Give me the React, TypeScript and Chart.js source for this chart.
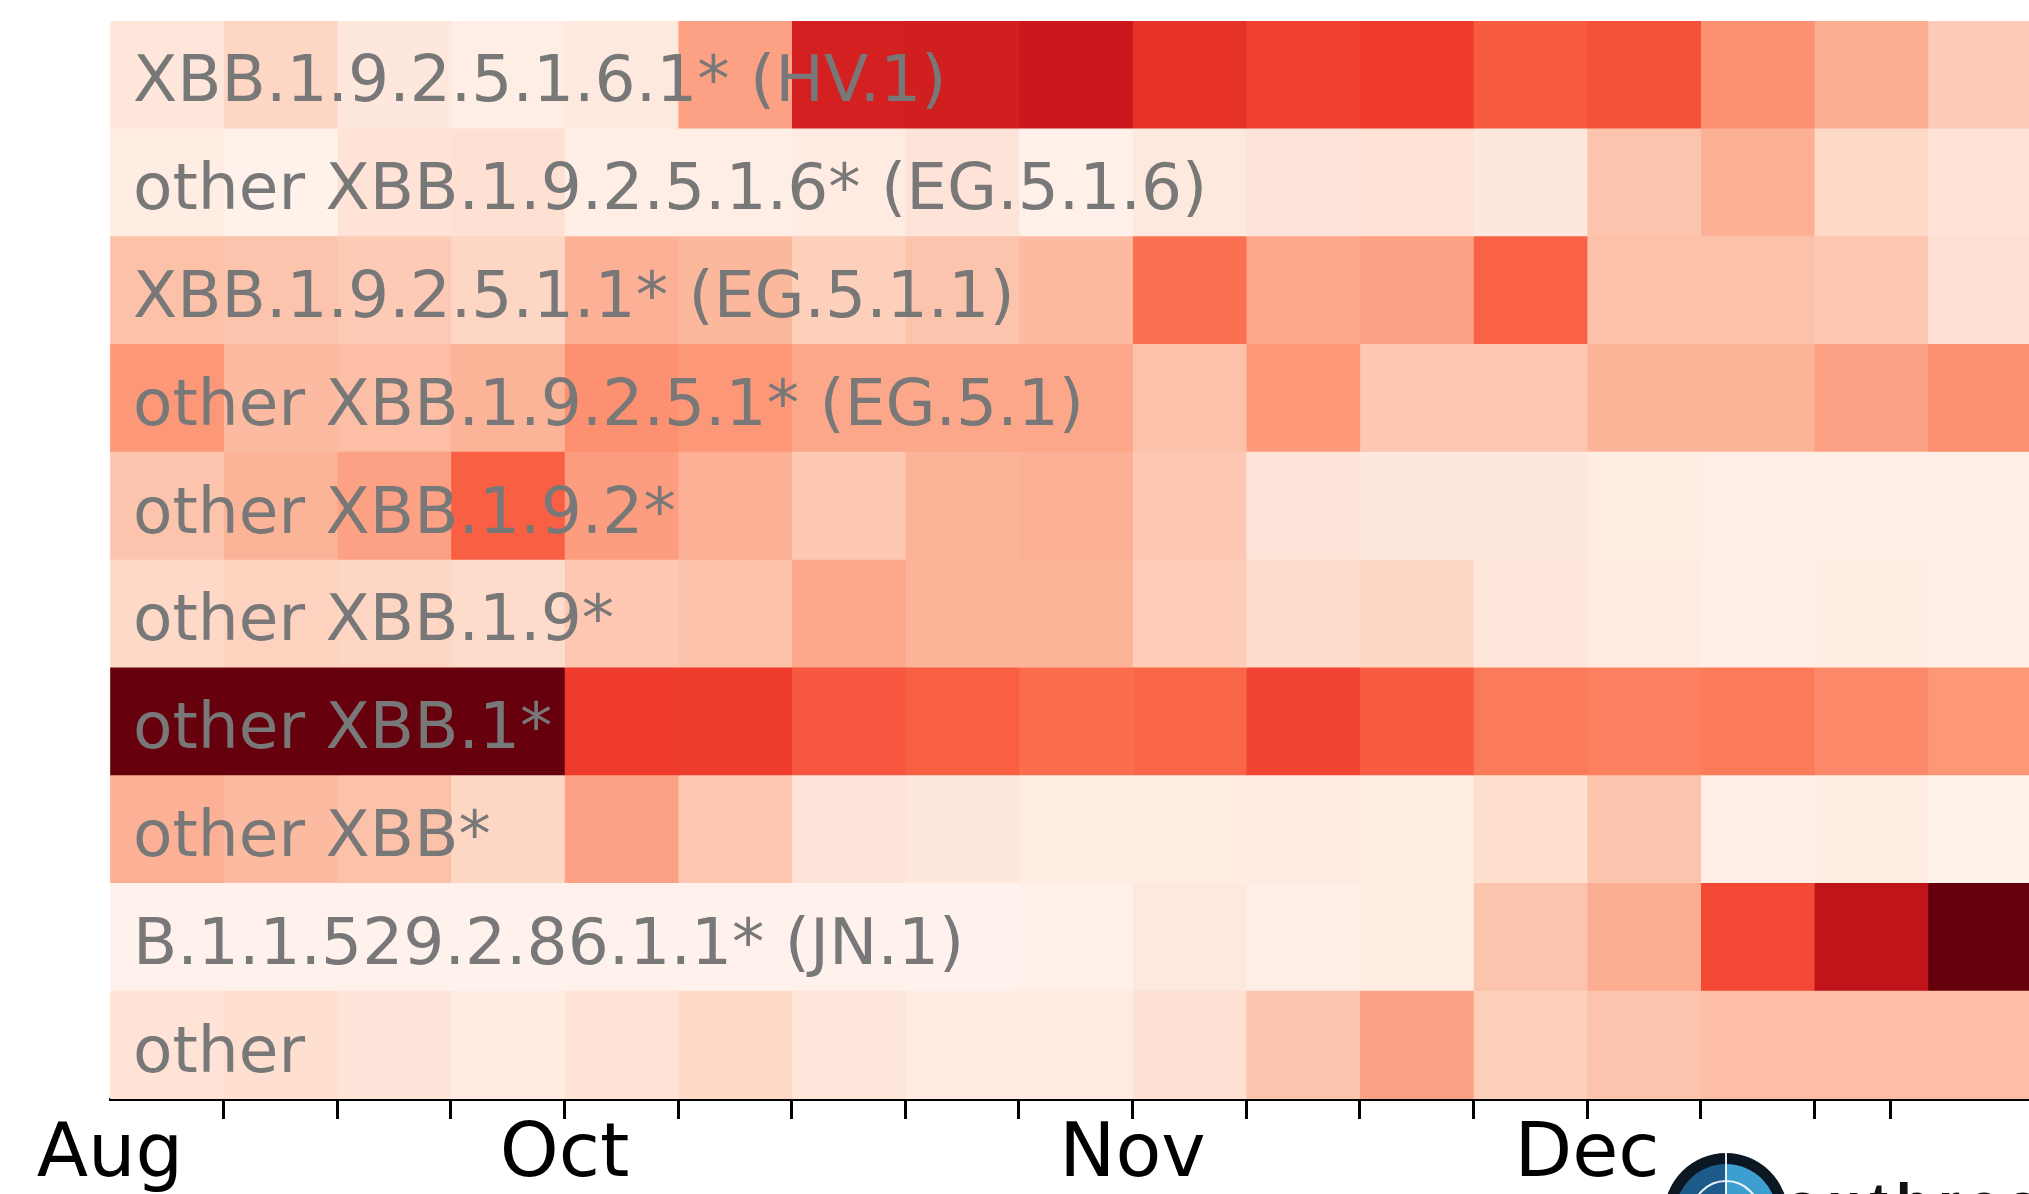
import { useEffect, useRef } from "react";
import { Chart, registerables } from "chart.js";

Chart.register(...registerables);

// Lineage groups, top to bottom
const lineages = [
  "XBB.1.9.2.5.1.6.1* (HV.1)",
  "other XBB.1.9.2.5.1.6* (EG.5.1.6)",
  "XBB.1.9.2.5.1.1* (EG.5.1.1)",
  "other XBB.1.9.2.5.1* (EG.5.1)",
  "other XBB.1.9.2*",
  "other XBB.1.9*",
  "other XBB.1*",
  "other XBB*",
  "B.1.1.529.2.86.1.1* (JN.1)",
  "other",
];

// Relative share per period (0..1, colour scale), one array per lineage group
const hv1 = [0.09, 0.16, 0.08, 0.04, 0.07, 0.33, 0.72, 0.73, 0.75, 0.66, 0.61, 0.625, 0.54, 0.565, 0.38, 0.29, 0.2];
const eg516 = [0.05, 0.02, 0.11, 0.12, 0.04, 0.04, 0.06, 0.1, 0.03, 0.07, 0.1, 0.11, 0.08, 0.22, 0.28, 0.15, 0.11];
const eg511 = [0.23, 0.22, 0.2, 0.16, 0.28, 0.26, 0.18, 0.22, 0.25, 0.48, 0.31, 0.33, 0.52, 0.23, 0.23, 0.21, 0.12];
const eg51 = [0.36, 0.25, 0.24, 0.27, 0.38, 0.36, 0.31, 0.31, 0.31, 0.23, 0.36, 0.21, 0.21, 0.27, 0.27, 0.33, 0.38];
const xbb192 = [0.22, 0.27, 0.33, 0.53, 0.34, 0.28, 0.21, 0.27, 0.28, 0.21, 0.1, 0.08, 0.08, 0.05, 0.04, 0.04, 0.04];
const xbb19 = [0.15, 0.17, 0.16, 0.14, 0.21, 0.23, 0.31, 0.27, 0.27, 0.19, 0.14, 0.16, 0.09, 0.06, 0.04, 0.05, 0.04];
const xbb1 = [1.0, 1.0, 1.0, 1.0, 0.625, 0.62, 0.55, 0.53, 0.49, 0.51, 0.6, 0.54, 0.45, 0.43, 0.45, 0.4, 0.36];
const xbb = [0.28, 0.25, 0.23, 0.16, 0.33, 0.21, 0.1, 0.08, 0.05, 0.05, 0.06, 0.05, 0.13, 0.22, 0.04, 0.05, 0.02];
const jn1 = [0.015, 0.015, 0.015, 0.015, 0.015, 0.015, 0.015, 0.015, 0.03, 0.07, 0.04, 0.05, 0.22, 0.29, 0.59, 0.79, 1.0];
const otherLineages = [0.11, 0.13, 0.1, 0.06, 0.11, 0.15, 0.09, 0.06, 0.06, 0.12, 0.22, 0.33, 0.18, 0.22, 0.24, 0.24, 0.24];

const shares = [hv1, eg516, eg511, eg51, xbb192, xbb19, xbb1, xbb, jn1, otherLineages];

// Period axis: tick marks, month labels and the visible span
const tickPositions = [0, 1, 2, 3, 4, 5, 6, 7, 8, 9, 10, 11, 12, 13, 14, 15, 15.67];
const monthTickAt = [0, 4, 9, 13];
const monthNames = ["Aug", "Oct", "Nov", "Dec"];
const visibleSpan = 16.89;

// matplotlib "Reds" colormap
const REDS = ["#fff5f0", "#fee0d2", "#fcbba1", "#fc9272", "#fb6a4a", "#ef3b2c", "#cb181d", "#a50f15", "#67000d"];

function hexToRgb(h: string) {
  return [parseInt(h.slice(1, 3), 16), parseInt(h.slice(3, 5), 16), parseInt(h.slice(5, 7), 16)];
}

function reds(t: number) {
  const v = Math.max(0, Math.min(1, t)) * (REDS.length - 1);
  const i = Math.min(REDS.length - 2, Math.floor(v));
  const f = v - i;
  const a = hexToRgb(REDS[i]);
  const b = hexToRgb(REDS[i + 1]);
  const c = a.map((x, k) => Math.round(x + (b[k] - x) * f));
  return `rgb(${c[0]}, ${c[1]}, ${c[2]})`;
}

const FONT = "'DejaVu Sans', Verdana, sans-serif";
const ROW_LABEL_SIZE = 64.6;
const ROW_LABEL_INSET = 23;

// Lineage names written over the left end of each row
const rowLabelPlugin = {
  id: "rowLabels",
  afterDatasetsDraw(chart: Chart) {
    const { ctx, chartArea } = chart;
    const yScale = chart.scales.y;
    ctx.save();
    ctx.fillStyle = "#787878";
    ctx.font = `${ROW_LABEL_SIZE}px ${FONT}`;
    ctx.textAlign = "left";
    ctx.textBaseline = "alphabetic";
    lineages.forEach((name, i) => {
      const y = yScale.getPixelForValue(i);
      ctx.fillText(name, chartArea.left + ROW_LABEL_INSET, y + ROW_LABEL_SIZE * 0.41);
    });
    ctx.restore();
  },
};

// outbreak.info mark in the lower right corner
const brandPlugin = {
  id: "brand",
  afterDraw(chart: Chart) {
    const { ctx } = chart;
    const cx = 1726;
    const cy = 1215;
    const r = 62;
    ctx.save();
    ctx.beginPath();
    ctx.arc(cx, cy, r, 0, Math.PI * 2);
    ctx.fillStyle = "#0b1722";
    ctx.fill();
    ctx.beginPath();
    ctx.arc(cx, cy, r - 11, Math.PI * 0.5, Math.PI * 1.5);
    ctx.fillStyle = "#1c5b8a";
    ctx.fill();
    ctx.beginPath();
    ctx.arc(cx, cy, r - 11, Math.PI * 1.5, Math.PI * 2.5);
    ctx.fillStyle = "#3c9fd0";
    ctx.fill();
    ctx.strokeStyle = "rgba(255,255,255,0.9)";
    ctx.lineWidth = 2;
    ctx.beginPath();
    ctx.moveTo(cx, cy - r);
    ctx.lineTo(cx, cy + r);
    ctx.stroke();
    ctx.beginPath();
    ctx.arc(cx, cy, r - 28, Math.PI, Math.PI * 2);
    ctx.stroke();
    ctx.fillStyle = "#111";
    ctx.font = "bold 56px 'Liberation Sans', Arial, sans-serif";
    (ctx as any).letterSpacing = "8px";
    ctx.textBaseline = "alphabetic";
    ctx.textAlign = "left";
    ctx.fillText("outbreak.info", 1785, 1222);
    ctx.restore();
  },
};

export default function App() {
  const canvasRef = useRef<HTMLCanvasElement | null>(null);

  useEffect(() => {
    document.body.style.margin = "0";
    const canvas = canvasRef.current;
    if (!canvas) return;

    const periods = hv1.map((_, w) => w);
    const datasets = periods.map((w) => ({
      label: `period ${w}`,
      data: lineages.map(() => [w, w + 1]),
      backgroundColor: shares.map((row) => reds(row[w])),
      borderWidth: 0,
      grouped: false,
      categoryPercentage: 1,
      barPercentage: 1,
    }));

    const chart = new Chart(canvas, {
      type: "bar",
      data: { labels: lineages, datasets: datasets as any },
      plugins: [rowLabelPlugin, brandPlugin],
      options: {
        indexAxis: "y",
        animation: false,
        responsive: true,
        maintainAspectRatio: false,
        layout: { padding: { left: 110, top: 21, right: 0, bottom: 0 } },
        plugins: {
          legend: { display: false },
          tooltip: { enabled: false },
        },
        scales: {
          y: {
            type: "category",
            offset: true,
            display: false,
          },
          x: {
            type: "linear",
            min: 0,
            max: visibleSpan,
            afterBuildTicks: (axis: any) => {
              axis.ticks = tickPositions.map((v) => ({ value: v }));
            },
            ticks: {
              autoSkip: false,
              maxRotation: 0,
              minRotation: 0,
              padding: 0,
              color: "#000",
              font: { family: FONT, size: 75, lineHeight: 1 },
              callback: (value: any) => {
                const k = monthTickAt.indexOf(Number(value));
                return k >= 0 ? monthNames[k] : "";
              },
            },
            grid: {
              drawOnChartArea: false,
              drawTicks: true,
              tickLength: 20,
              tickWidth: 3,
              tickColor: (ctx: any) => (ctx.index === 0 ? "rgba(0,0,0,0)" : "#000"),
            },
            border: { display: true, color: "#000", width: 3 },
          },
        },
      } as any,
    });

    return () => chart.destroy();
  }, []);

  return (
    <div style={{ position: "fixed", left: 0, top: 0, width: 2029, height: 1194, background: "#fff", overflow: "hidden" }}>
      <canvas ref={canvasRef} />
    </div>
  );
}
